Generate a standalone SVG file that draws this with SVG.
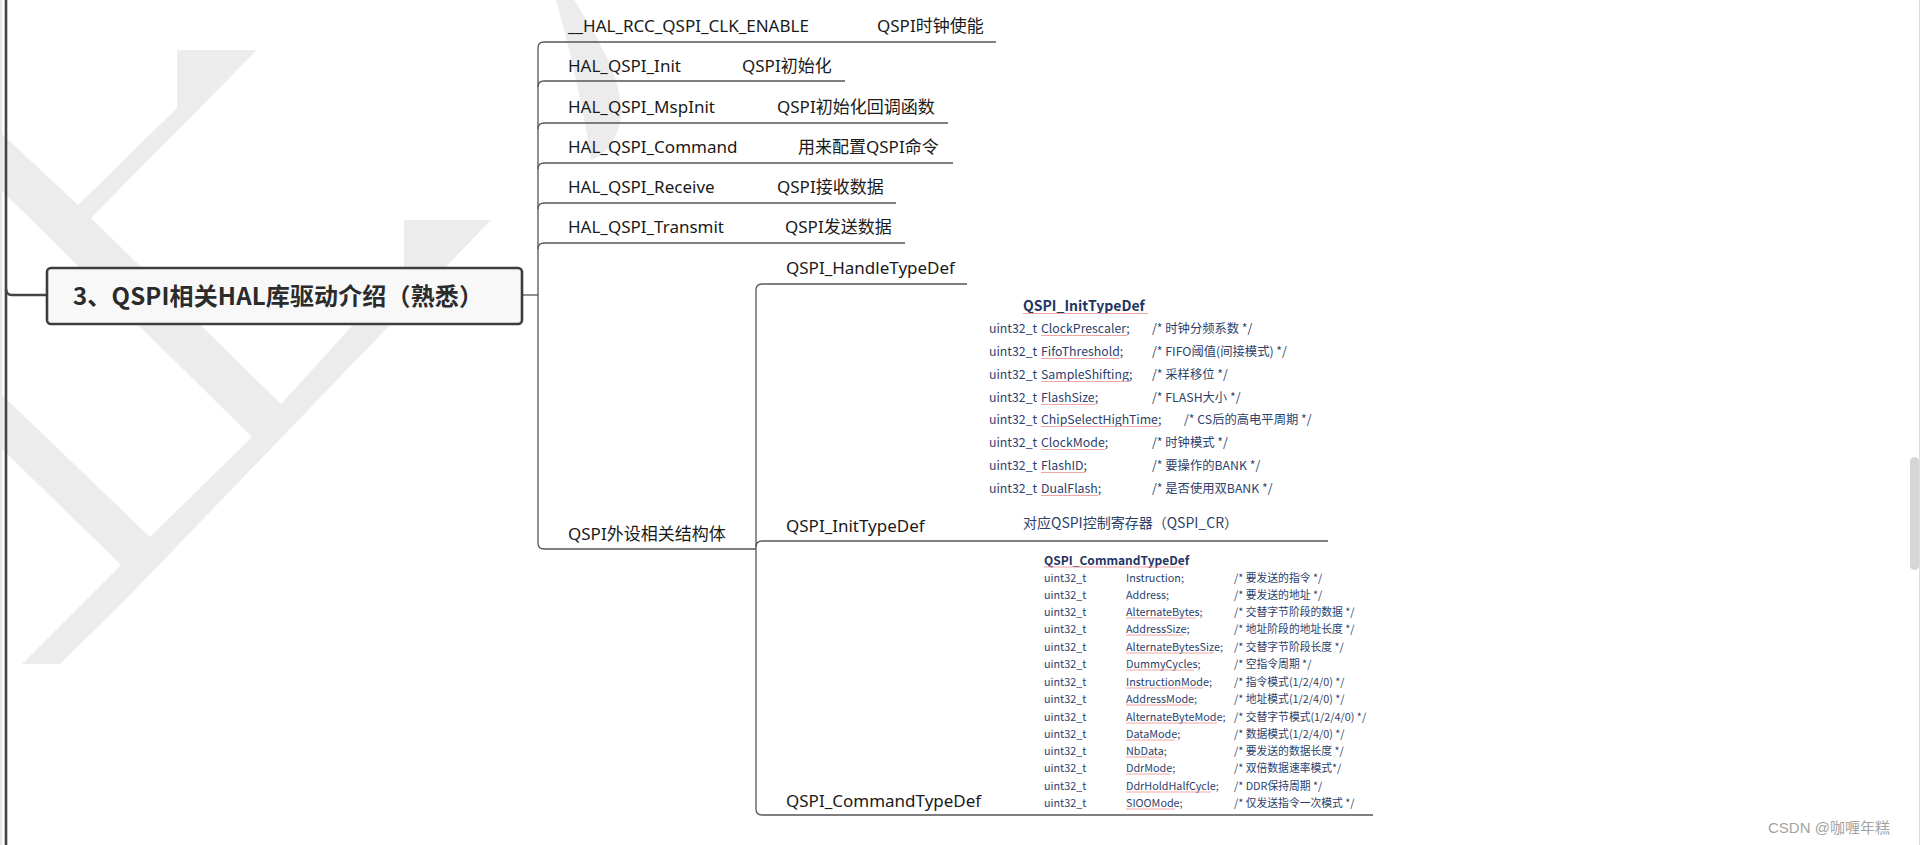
<svg xmlns="http://www.w3.org/2000/svg" width="1920" height="845" viewBox="0 0 1920 845">
<defs>
<style>
.bg{fill:#ffffff}
.wm{fill:#ececec}
.ln{fill:none;stroke:#555555;stroke-width:1.3}
.lnb{fill:none;stroke:#444444;stroke-width:2.6}
.lbl{font-family:"Noto Sans","Noto Sans CJK SC",sans-serif;font-size:17px;fill:#1a1a1a}
.root{font-family:"Noto Sans CJK SC","Noto Sans",sans-serif;font-size:24px;font-weight:bold;fill:#2b2b2b}
.code{font-family:"Noto Sans CJK SC","Noto Sans",sans-serif;fill:#2d3f6c}
.ci{font-size:12.3px}
.cc{font-size:10.8px}
.ttl{font-weight:bold;fill:#1f3563}
.sq{stroke:#f2a5a5;stroke-width:1;fill:none}
.csdn{font-family:"Liberation Sans","Noto Sans CJK SC",sans-serif;font-size:15px;fill:#a3a3a3}
</style>
</defs>
<rect class="bg" x="0" y="0" width="1920" height="845"/>
<g id="watermark">
<path class="wm" d="M0,132 L78,205 L177,108 L177,50 L257,50 L91,218 L281,404 L404,269 L404,220 L491,220 L130,595 Q95,630 60,664 L22,664 L121,565 L0,447 L0,393 L150,537 L252,437 L0,189 Z"/>
<path class="wm" d="M556,0 L574,0 C600,40 632,95 618,130 C612,148 598,158 591,160 C585,115 570,50 556,0 Z"/>
</g>
<rect x="0" y="0" width="2" height="845" fill="#e6e6e6"/>
<line x1="1919.5" y1="0" x2="1919.5" y2="845" stroke="#dddddd" stroke-width="1"/>
<rect x="1910" y="457" width="9" height="113" rx="4.5" fill="#d6d6d6"/>
<g id="connectors">
<path class="lnb" d="M6,0 V845"/>
<path class="lnb" d="M6,289 Q6,295 12,295 H47"/>
<path class="ln" d="M522,295 H538"/>
<path class="ln" d="M538,48 V543"/>
<path class="ln" d="M538,48 Q538,42 544,42 H996"/>
<path class="ln" d="M538,87 Q538,81 544,81 H845"/>
<path class="ln" d="M538,129 Q538,123 544,123 H948"/>
<path class="ln" d="M538,169 Q538,163 544,163 H953"/>
<path class="ln" d="M538,209 Q538,203 544,203 H896"/>
<path class="ln" d="M538,249 Q538,243 544,243 H905"/>
<path class="ln" d="M538,543 Q538,549 544,549 H756"/>
<path class="ln" d="M756,290 V809"/>
<path class="ln" d="M756,290 Q756,284 762,284 H967"/>
<path class="ln" d="M756,547 Q756,541 762,541 H1328"/>
<path class="ln" d="M756,809 Q756,815 762,815 H1373"/>
</g>
<g id="root">
<rect x="47" y="268" width="475" height="56" rx="4" fill="#f8f8f8" stroke="#3d3d3d" stroke-width="2.6"/>
<text class="root" x="73" y="305" textLength="410" lengthAdjust="spacing">3、QSPI相关HAL库驱动介绍（熟悉）</text>
</g>
<g id="n1"><text class="lbl" x="568" y="32">__HAL_RCC_QSPI_CLK_ENABLE</text><text class="lbl" x="877" y="32">QSPI时钟使能</text></g>
<g id="n2"><text class="lbl" x="568" y="72">HAL_QSPI_Init</text><text class="lbl" x="742" y="72">QSPI初始化</text></g>
<g id="n3"><text class="lbl" x="568" y="113">HAL_QSPI_MspInit</text><text class="lbl" x="777" y="113">QSPI初始化回调函数</text></g>
<g id="n4"><text class="lbl" x="568" y="153">HAL_QSPI_Command</text><text class="lbl" x="798" y="153">用来配置QSPI命令</text></g>
<g id="n5"><text class="lbl" x="568" y="193">HAL_QSPI_Receive</text><text class="lbl" x="777" y="193">QSPI接收数据</text></g>
<g id="n6"><text class="lbl" x="568" y="233">HAL_QSPI_Transmit</text><text class="lbl" x="785" y="233">QSPI发送数据</text></g>
<g id="n7"><text class="lbl" x="568" y="540">QSPI外设相关结构体</text></g>
<g id="n8"><text class="lbl" x="786" y="274">QSPI_HandleTypeDef</text></g>
<g id="n9">
<text class="lbl" x="786" y="532">QSPI_InitTypeDef</text>
<g class="code ci">
<text class="ttl" x="1023" y="311" font-size="14">QSPI_InitTypeDef</text>
<text x="989" y="333">uint32_t</text><text x="1041" y="333">ClockPrescaler;</text><text x="1152" y="333">/* 时钟分频系数 */</text>
<text x="989" y="356">uint32_t</text><text x="1041" y="356">FifoThreshold;</text><text x="1152" y="356">/* FIFO阈值(间接模式) */</text>
<text x="989" y="379">uint32_t</text><text x="1041" y="379">SampleShifting;</text><text x="1152" y="379">/* 采样移位 */</text>
<text x="989" y="402">uint32_t</text><text x="1041" y="402">FlashSize;</text><text x="1152" y="402">/* FLASH大小 */</text>
<text x="989" y="424">uint32_t</text><text x="1041" y="424">ChipSelectHighTime;</text><text x="1184" y="424">/* CS后的高电平周期 */</text>
<text x="989" y="447">uint32_t</text><text x="1041" y="447">ClockMode;</text><text x="1152" y="447">/* 时钟模式 */</text>
<text x="989" y="470">uint32_t</text><text x="1041" y="470">FlashID;</text><text x="1152" y="470">/* 要操作的BANK */</text>
<text x="989" y="493">uint32_t</text><text x="1041" y="493">DualFlash;</text><text x="1152" y="493">/* 是否使用双BANK */</text>
<text x="1023" y="528" font-size="14">对应QSPI控制寄存器（QSPI_CR）</text>
</g>
<path class="sq" d="M1023,313.5 H1148 M1041,335.5 H1127 M1041,358.5 H1119 M1041,381.5 H1130 M1041,404.5 H1095 M1041,426.5 H1159 M1041,449.5 H1105 M1041,472.5 H1085 M1041,495.5 H1098"/>
</g>
<g id="n10">
<text class="lbl" x="786" y="807">QSPI_CommandTypeDef</text>
<g class="code cc">
<text class="ttl" x="1044" y="565" font-size="12">QSPI_CommandTypeDef</text>
<text x="1044" y="582">uint32_t</text><text x="1126" y="582">Instruction;</text><text x="1234" y="582">/* 要发送的指令 */</text>
<text x="1044" y="599">uint32_t</text><text x="1126" y="599">Address;</text><text x="1234" y="599">/* 要发送的地址 */</text>
<text x="1044" y="616">uint32_t</text><text x="1126" y="616">AlternateBytes;</text><text x="1234" y="616">/* 交替字节阶段的数据 */</text>
<text x="1044" y="633">uint32_t</text><text x="1126" y="633">AddressSize;</text><text x="1234" y="633">/* 地址阶段的地址长度 */</text>
<text x="1044" y="651">uint32_t</text><text x="1126" y="651">AlternateBytesSize;</text><text x="1234" y="651">/* 交替字节阶段长度 */</text>
<text x="1044" y="668">uint32_t</text><text x="1126" y="668">DummyCycles;</text><text x="1234" y="668">/* 空指令周期 */</text>
<text x="1044" y="686">uint32_t</text><text x="1126" y="686">InstructionMode;</text><text x="1234" y="686">/* 指令模式(1/2/4/0) */</text>
<text x="1044" y="703">uint32_t</text><text x="1126" y="703">AddressMode;</text><text x="1234" y="703">/* 地址模式(1/2/4/0) */</text>
<text x="1044" y="721">uint32_t</text><text x="1126" y="721">AlternateByteMode;</text><text x="1234" y="721">/* 交替字节模式(1/2/4/0) */</text>
<text x="1044" y="738">uint32_t</text><text x="1126" y="738">DataMode;</text><text x="1234" y="738">/* 数据模式(1/2/4/0) */</text>
<text x="1044" y="755">uint32_t</text><text x="1126" y="755">NbData;</text><text x="1234" y="755">/* 要发送的数据长度 */</text>
<text x="1044" y="772">uint32_t</text><text x="1126" y="772">DdrMode;</text><text x="1234" y="772">/* 双倍数据速率模式*/</text>
<text x="1044" y="790">uint32_t</text><text x="1126" y="790">DdrHoldHalfCycle;</text><text x="1234" y="790">/* DDR保持周期 */</text>
<text x="1044" y="807">uint32_t</text><text x="1126" y="807">SIOOMode;</text><text x="1234" y="807">/* 仅发送指令一次模式 */</text>
</g>
<path class="sq" d="M1044,567 H1183 M1126,618 H1196 M1126,635 H1184 M1126,653 H1214 M1126,670 H1194 M1126,688 H1203 M1126,705 H1190 M1126,723 H1217 M1126,740 H1175 M1126,757 H1162 M1126,774 H1170 M1126,792 H1211 M1126,809 H1175"/>
</g>
<text class="csdn" x="1768" y="833">CSDN @咖喱年糕</text>
</svg>
